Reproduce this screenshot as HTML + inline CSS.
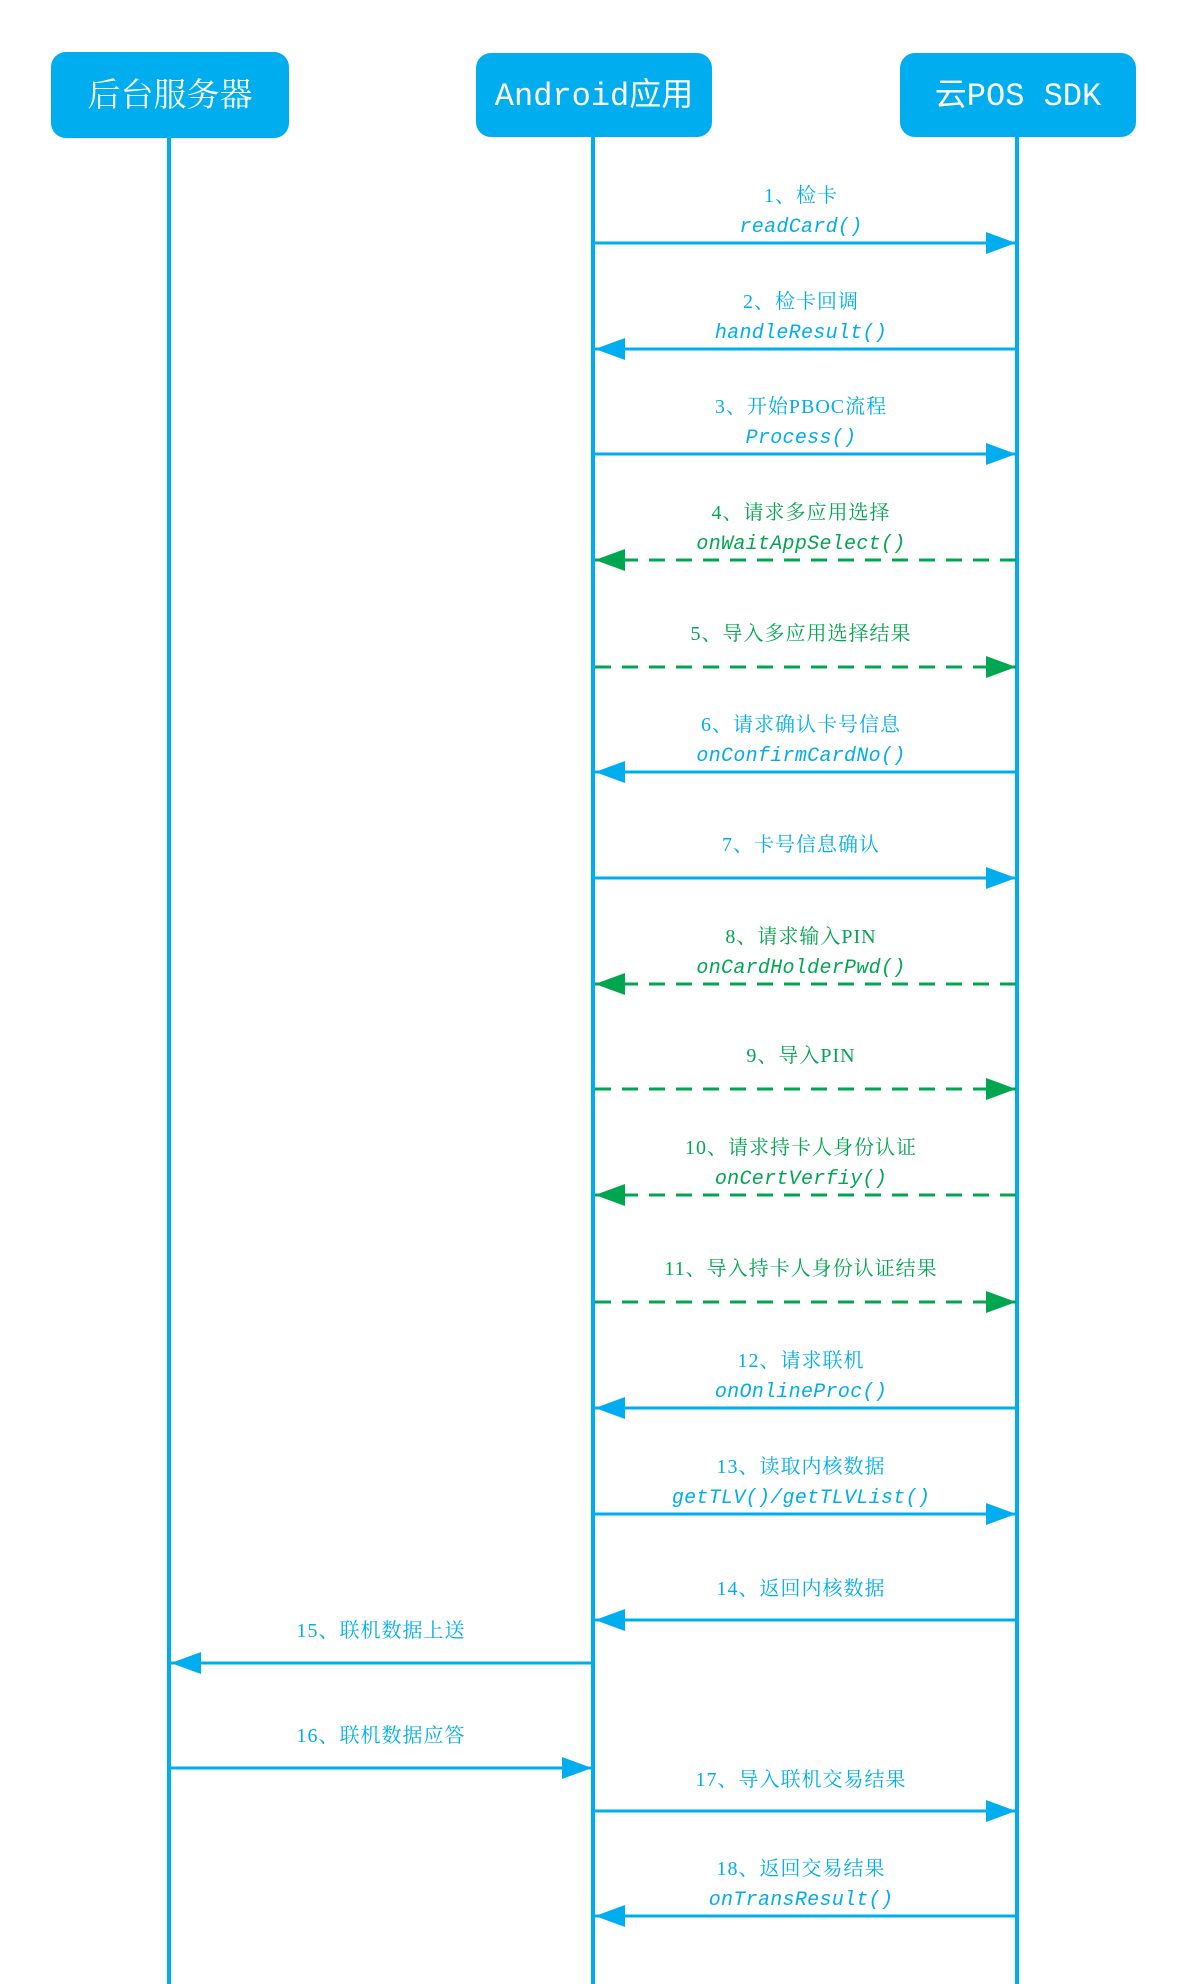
<!DOCTYPE html>
<html><head><meta charset="utf-8"><style>
html,body{margin:0;padding:0;background:#fff;}
svg{display:block;}
.t{font-family:"Liberation Serif","Noto Serif CJK SC",serif;font-size:20px;letter-spacing:1px;font-weight:normal;text-anchor:middle;}
.m{font-family:"Liberation Mono","Noto Sans CJK SC",monospace;font-size:20px;font-style:italic;letter-spacing:0.3px;text-anchor:middle;}
.h{font-family:"Liberation Mono","Noto Sans CJK SC",monospace;font-size:32px;fill:#fff;text-anchor:middle;}
.b{fill:#00AEEF;}.g{fill:#00A650;}
</style></head><body>
<svg width="1188" height="1984" viewBox="0 0 1188 1984" xmlns="http://www.w3.org/2000/svg">
<g stroke="#00AEEF" stroke-width="4">
<line x1="169" y1="130" x2="169" y2="1984"/>
<line x1="593" y1="130" x2="593" y2="1984"/>
<line x1="1017" y1="130" x2="1017" y2="1984"/>
</g>
<rect x="51" y="52" width="238" height="86" rx="15" fill="#00AEEF"/>
<rect x="476" y="53" width="236" height="84" rx="15" fill="#00AEEF"/>
<rect x="900" y="53" width="236" height="84" rx="15" fill="#00AEEF"/>
<text class="h" x="170" y="106" style="font-family:'Noto Serif CJK SC','Noto Sans CJK SC',serif;font-size:33px">后台服务器</text>
<text class="h" x="594" y="105">Android应用</text>
<text class="h" x="1018" y="105">云POS SDK</text>

<defs>
<marker id="ab" markerWidth="30" markerHeight="22" refX="30" refY="11" orient="auto" markerUnits="userSpaceOnUse"><path d="M0,0 L30,11 L0,22 Z" fill="#00AEEF"/></marker>
<marker id="ag" markerWidth="30" markerHeight="22" refX="30" refY="11" orient="auto" markerUnits="userSpaceOnUse"><path d="M0,0 L30,11 L0,22 Z" fill="#00A650"/></marker>
</defs>
<g stroke-width="3">
<line x1="595" y1="243" x2="1016" y2="243" stroke="#00AEEF" marker-end="url(#ab)"/>
<line x1="1016" y1="349" x2="595" y2="349" stroke="#00AEEF" marker-end="url(#ab)"/>
<line x1="595" y1="454" x2="1016" y2="454" stroke="#00AEEF" marker-end="url(#ab)"/>
<line x1="1016" y1="560" x2="595" y2="560" stroke="#00A650" stroke-dasharray="16,11" marker-end="url(#ag)"/>
<line x1="595" y1="667" x2="1016" y2="667" stroke="#00A650" stroke-dasharray="16,11" marker-end="url(#ag)"/>
<line x1="1016" y1="772" x2="595" y2="772" stroke="#00AEEF" marker-end="url(#ab)"/>
<line x1="595" y1="878" x2="1016" y2="878" stroke="#00AEEF" marker-end="url(#ab)"/>
<line x1="1016" y1="984" x2="595" y2="984" stroke="#00A650" stroke-dasharray="16,11" marker-end="url(#ag)"/>
<line x1="595" y1="1089" x2="1016" y2="1089" stroke="#00A650" stroke-dasharray="16,11" marker-end="url(#ag)"/>
<line x1="1016" y1="1195" x2="595" y2="1195" stroke="#00A650" stroke-dasharray="16,11" marker-end="url(#ag)"/>
<line x1="595" y1="1302" x2="1016" y2="1302" stroke="#00A650" stroke-dasharray="16,11" marker-end="url(#ag)"/>
<line x1="1016" y1="1408" x2="595" y2="1408" stroke="#00AEEF" marker-end="url(#ab)"/>
<line x1="595" y1="1514" x2="1016" y2="1514" stroke="#00AEEF" marker-end="url(#ab)"/>
<line x1="1016" y1="1620" x2="595" y2="1620" stroke="#00AEEF" marker-end="url(#ab)"/>
<line x1="592" y1="1663" x2="171" y2="1663" stroke="#00AEEF" marker-end="url(#ab)"/>
<line x1="171" y1="1768" x2="592" y2="1768" stroke="#00AEEF" marker-end="url(#ab)"/>
<line x1="595" y1="1811" x2="1016" y2="1811" stroke="#00AEEF" marker-end="url(#ab)"/>
<line x1="1016" y1="1916" x2="595" y2="1916" stroke="#00AEEF" marker-end="url(#ab)"/>
</g>

<g class="b">
<text class="t" x="801" y="202">1、检卡</text><text class="m" x="801" y="232">readCard()</text>
<text class="t" x="801" y="308">2、检卡回调</text><text class="m" x="801" y="338">handleResult()</text>
<text class="t" x="801" y="413">3、开始PBOC流程</text><text class="m" x="801" y="443">Process()</text>
<text class="t" x="801" y="731">6、请求确认卡号信息</text><text class="m" x="801" y="761">onConfirmCardNo()</text>
<text class="t" x="801" y="851">7、卡号信息确认</text>
<text class="t" x="801" y="1367">12、请求联机</text><text class="m" x="801" y="1397">onOnlineProc()</text>
<text class="t" x="801" y="1473">13、读取内核数据</text><text class="m" x="801" y="1503">getTLV()/getTLVList()</text>
<text class="t" x="801" y="1595">14、返回内核数据</text>
<text class="t" x="381" y="1637">15、联机数据上送</text>
<text class="t" x="381" y="1742">16、联机数据应答</text>
<text class="t" x="801" y="1786">17、导入联机交易结果</text>
<text class="t" x="801" y="1875">18、返回交易结果</text><text class="m" x="801" y="1905">onTransResult()</text>
</g>
<g class="g">
<text class="t" x="801" y="519">4、请求多应用选择</text><text class="m" x="801" y="549">onWaitAppSelect()</text>
<text class="t" x="801" y="640">5、导入多应用选择结果</text>
<text class="t" x="801" y="943">8、请求输入PIN</text><text class="m" x="801" y="973">onCardHolderPwd()</text>
<text class="t" x="801" y="1062">9、导入PIN</text>
<text class="t" x="801" y="1154">10、请求持卡人身份认证</text><text class="m" x="801" y="1184">onCertVerfiy()</text>
<text class="t" x="801" y="1275">11、导入持卡人身份认证结果</text>
</g>
</svg>
</body></html>
